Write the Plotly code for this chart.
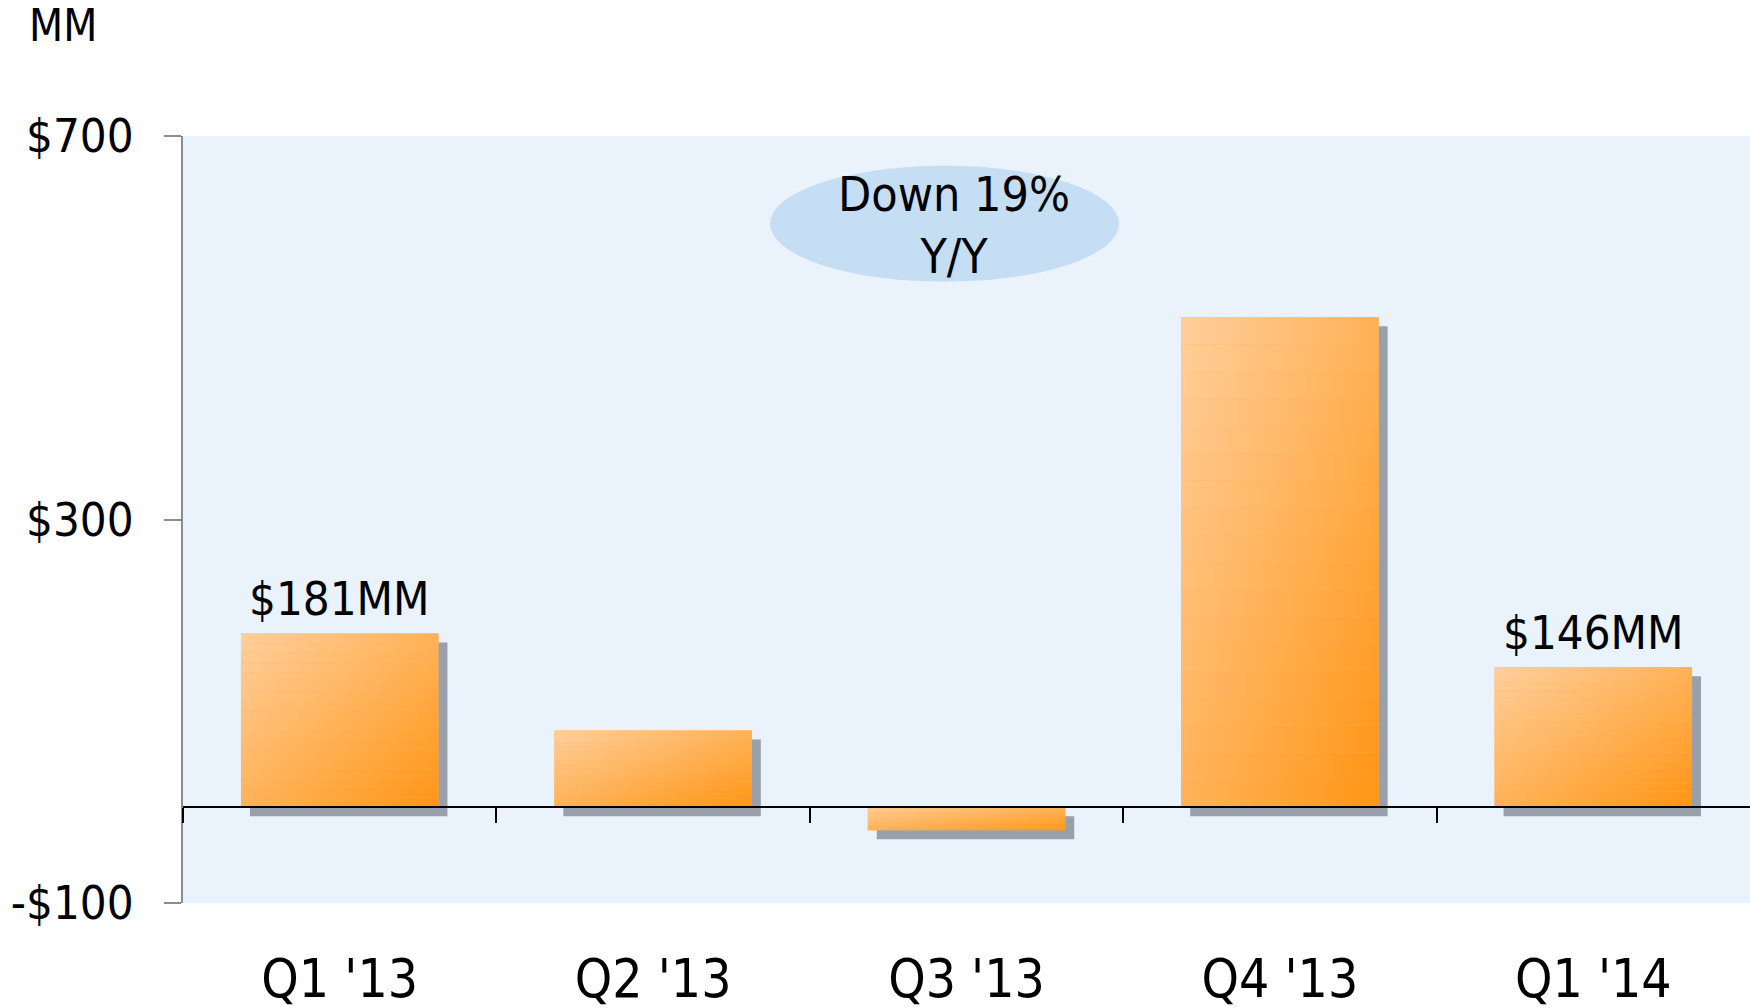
import plotly.graph_objects as go

# ---------------- data ----------------
categories = ["Q1 '13", "Q2 '13", "Q3 '13", "Q4 '13", "Q1 '14"]
values = [181, 80, -24, 511, 146]
bar_labels = ["$181MM", "", "", "", "$146MM"]
y_tickvals = [-100, 300, 700]
y_ticktext = ["-$100", "$300", "$700"]
y_range = [-100, 700]
callout_text = "Down 19%<br>Y/Y"
unit_label = "MM"

# ---------------- style ----------------
FONT = "DejaVu Sans Condensed, DejaVu Sans, sans-serif"
W, H = 1750, 1008
ML, MR, MT, MB = 183, 0, 136, 105
BAR_W = 0.63
LIGHT = (255, 207, 157)
DARK = (255, 149, 20)
N_STRIPS = 18
SHADOW = "rgba(132,139,150,0.8)"

idx = list(range(len(categories)))
x_range = [-0.5, len(categories) - 0.5]
plot_w = W - ML - MR
plot_h = H - MT - MB
px_per_x = plot_w / (x_range[1] - x_range[0])
px_per_y = plot_h / (y_range[1] - y_range[0])
shadow_dx = 9 / px_per_x
shadow_dy = 9 / px_per_y


def mix(t):
    c = [round(LIGHT[k] + (DARK[k] - LIGHT[k]) * t) for k in range(3)]
    return "rgb(%d,%d,%d)" % tuple(c)


fig = go.Figure()

# shadows
fig.add_trace(go.Bar(
    x=idx, y=values, base=[-shadow_dy] * len(values), width=BAR_W,
    offset=-BAR_W / 2 + shadow_dx, marker=dict(color=SHADOW, line=dict(width=0)),
    hoverinfo="skip", showlegend=False))

# base bars (solid mid colour)
fig.add_trace(go.Bar(
    x=idx, y=values, width=BAR_W, offset=-BAR_W / 2,
    marker=dict(color=mix(0.5), line=dict(width=0)),
    hovertemplate="%{y}<extra></extra>", showlegend=False))

# diagonal gradient overlay built from horizontal-gradient strips
for i, v in zip(idx, values):
    top, bot = max(v, 0), min(v, 0)
    x0, x1 = i - BAR_W / 2, i + BAR_W / 2
    for s in range(N_STRIPS):
        ya = top - (top - bot) * s / N_STRIPS
        yb = top - (top - bot) * (s + 1) / N_STRIPS
        vmid = (s + 0.5) / N_STRIPS
        fig.add_trace(go.Scatter(
            x=[x0, x1, x1, x0, x0], y=[yb, yb, ya, ya, yb],
            mode="lines", line=dict(width=0), fill="toself",
            fillgradient=dict(type="horizontal",
                              colorscale=[[0, mix(vmid / 2)], [1, mix((1 + vmid) / 2)]]),
            hoverinfo="skip", showlegend=False))

# invisible trace for the zero-line axis
fig.add_trace(go.Scatter(x=idx, y=[0] * len(idx), xaxis="x2", yaxis="y",
                         mode="markers", marker=dict(opacity=0),
                         hoverinfo="skip", showlegend=False))

annotations = []
for i, v, t in zip(idx, values, bar_labels):
    if t:
        annotations.append(dict(x=i, y=v, xref="x", yref="y", text=t, showarrow=False,
                                yanchor="middle", yshift=35,
                                font=dict(family=FONT, size=47, color="black")))

annotations.append(dict(x=(1.373 + 2.487) / 2 + 0.03, y=607, xref="x", yref="y",
                        text=callout_text, showarrow=False, yanchor="middle",
                        font=dict(family=FONT, size=48, color="black")))
annotations.append(dict(x=(27 - ML) / plot_w, y=(H - MB - 25) / plot_h, xref="paper",
                        yref="paper", text=unit_label, showarrow=False,
                        xanchor="left", yanchor="middle",
                        font=dict(family=FONT, size=44, color="black")))

fig.update_layout(
    width=W, height=H,
    margin=dict(l=ML, r=MR, t=MT, b=MB, pad=0, autoexpand=False),
    paper_bgcolor="white", plot_bgcolor="#EAF2FC",
    barmode="overlay", showlegend=False,
    font=dict(family=FONT, color="black"),
    shapes=[dict(type="circle", xref="x", yref="y", x0=1.373, x1=2.487, y0=548, y1=669,
                 fillcolor="#C6DEF3", line=dict(width=0), layer="below")],
    annotations=annotations,
    xaxis=dict(range=x_range, tickvals=idx, ticktext=categories,
               tickfont=dict(family=FONT, size=53, color="black"),
               ticks="outside", ticklen=29, tickcolor="rgba(0,0,0,0)",
               automargin=False,
               showline=False, showgrid=False, zeroline=False, fixedrange=True),
    xaxis2=dict(range=x_range, overlaying="x", anchor="free",
                position=(0 - y_range[0]) / (y_range[1] - y_range[0]), side="bottom",
                tickvals=[k - 0.5 for k in idx], showticklabels=False,
                ticks="outside", ticklen=15, tickwidth=2, tickcolor="black",
                showline=True, linecolor="black", linewidth=2, automargin=False,
                showgrid=False, zeroline=False, fixedrange=True),
    yaxis=dict(range=y_range, tickvals=y_tickvals, ticktext=y_ticktext,
               tickfont=dict(family=FONT, size=47, color="black"),
               ticks="outside", ticklen=17, tickwidth=2, tickcolor="#8c8c8c",
               showline=True, linecolor="#8c8c8c", linewidth=2,
               ticklabelstandoff=21, automargin=False,
               showgrid=False, zeroline=False, fixedrange=True),
)

fig.write_html(
    "out.html",
    config={"displayModeBar": False},
    post_script="document.body.style.margin='0';document.body.style.overflow='hidden';",
)
